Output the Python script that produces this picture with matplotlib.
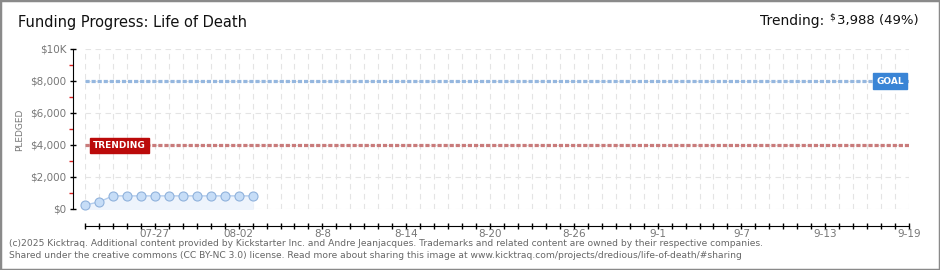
import matplotlib
matplotlib.use("Agg")
import matplotlib.pyplot as plt
import pandas as pd
from matplotlib.patches import Rectangle

# data
dates = pd.date_range("2025-07-22", "2025-08-03", freq="D")
pledged = [250, 440, 820, 820, 820, 820, 820, 820, 820, 820, 820, 820, 820]
goal = 8000
trending = 3988
x_start, x_end = pd.Timestamp("2025-07-22"), pd.Timestamp("2025-09-19")
label_dates = pd.date_range("2025-07-27", "2025-09-19", freq="6D")
label_text = ["07-27", "08-02", "8-8", "8-14", "8-20", "8-26", "9-1", "9-7", "9-13", "9-19"]
y_ticks = [0, 2000, 4000, 6000, 8000, 10000]
y_text = ["$0", "$2,000", "$4,000", "$6,000", "$8,000", "$10K"]

W, H = 940, 270
fig = plt.figure(figsize=(W / 100, H / 100), dpi=100)
fig.patch.set_facecolor("white")
fig.add_artist(Rectangle((0, 0), 1, 1, transform=fig.transFigure, fill=False,
                         edgecolor="#8a8a8a", lw=2.5))

ax = fig.add_axes([85 / W, 1 - 209 / H, (909 - 85) / W, 160 / H])
ax.set_xlim(x_start, x_end)
ax.set_ylim(0, 10000)

# grid
for d in pd.date_range(x_start, x_end, freq="D"):
    ax.axvline(d, color="#e4e4e4", lw=0.8, ls=(0, (5, 4)), zorder=0)
for v in y_ticks:
    ax.axhline(v, color="#e4e4e4", lw=0.8, ls=(0, (5, 4)), zorder=0)

# goal / trending lines
ax.axhline(goal, color="#95b7df", lw=2.3, ls=(0, (1.3, 0.6)), zorder=2)
ax.axhline(trending, color="#c97b7b", lw=2.3, ls=(0, (1.3, 0.6)), zorder=2)

# pledged series
ax.fill_between(dates, pledged, 0, color="#eef4fc", zorder=1)
ax.plot(dates, pledged, color="#b3cdee", lw=1, zorder=3)
ax.plot(dates, pledged, "o", ms=6.5, mfc="#c6ddf7", mec="#90b2dc", mew=0.8,
        zorder=4, clip_on=False)

# badges
ax.text(pd.Timestamp("2025-07-22 14:00"), trending, "TRENDING", color="white",
        fontsize=6.5, fontweight="bold", va="center", ha="left", zorder=5,
        bbox=dict(boxstyle="square,pad=0.35", fc="#bb0a0a", ec="#bb0a0a"))
ax.text(pd.Timestamp("2025-09-18 15:00"), goal, "GOAL", color="white",
        fontsize=6.5, fontweight="bold", va="center", ha="right", zorder=5,
        bbox=dict(boxstyle="square,pad=0.35", fc="#3a85d6", ec="#3a85d6"))

# axes styling
for s in ["top", "right"]:
    ax.spines[s].set_visible(False)
ax.spines["left"].set_position(("outward", 9))
ax.spines["bottom"].set_position(("outward", 12))

ax.set_yticks(y_ticks)
ax.set_yticklabels(y_text)
ax.set_yticks([1000, 3000, 5000, 7000, 9000], minor=True)
ax.tick_params(axis="y", which="major", direction="inout", length=5, width=1,
               labelsize=7.5, labelcolor="#777777", pad=2)
ax.tick_params(axis="y", which="minor", direction="out", length=3, width=1,
               color="#dd2222")

ax.set_xticks(pd.date_range(x_start, x_end, freq="D"), minor=True)
ax.set_xticks(label_dates)
ax.set_xticklabels(label_text)
ax.tick_params(axis="x", which="both", direction="inout", length=4, width=1,
               labelsize=7.5, labelcolor="#777777", pad=0.5)

fig.text(20 / W, 1 - 130 / H, "PLEDGED", rotation=90, fontsize=6.5, color="#777777",
         ha="center", va="center")

fig.text(18 / W, 1 - 22 / H, "Funding Progress: Life of Death", fontsize=10.5,
         color="#111111", ha="left", va="center")
fig.text(824 / W, 1 - 21 / H, "Trending:", fontsize=10,
         color="#111111", ha="right", va="center")
fig.text(832 / W, 1 - 17 / H, "$", fontsize=6.5,
         color="#111111", ha="center", va="center")
fig.text(837 / W, 1 - 21 / H, "3,988 (49%)", fontsize=9.5,
         color="#111111", ha="left", va="center")

fig.text(9 / W, 1 - 243 / H,
         "(c)2025 Kicktraq. Additional content provided by Kickstarter Inc. and Andre Jeanjacques. "
         "Trademarks and related content are owned by their respective companies.",
         fontsize=6.6, color="#666666", ha="left", va="center")
fig.text(9 / W, 1 - 256 / H,
         "Shared under the creative commons (CC BY-NC 3.0) license. Read more about sharing this image at "
         "www.kicktraq.com/projects/dredious/life-of-death/#sharing",
         fontsize=6.6, color="#666666", ha="left", va="center")

fig.savefig("out.png", dpi=100)
